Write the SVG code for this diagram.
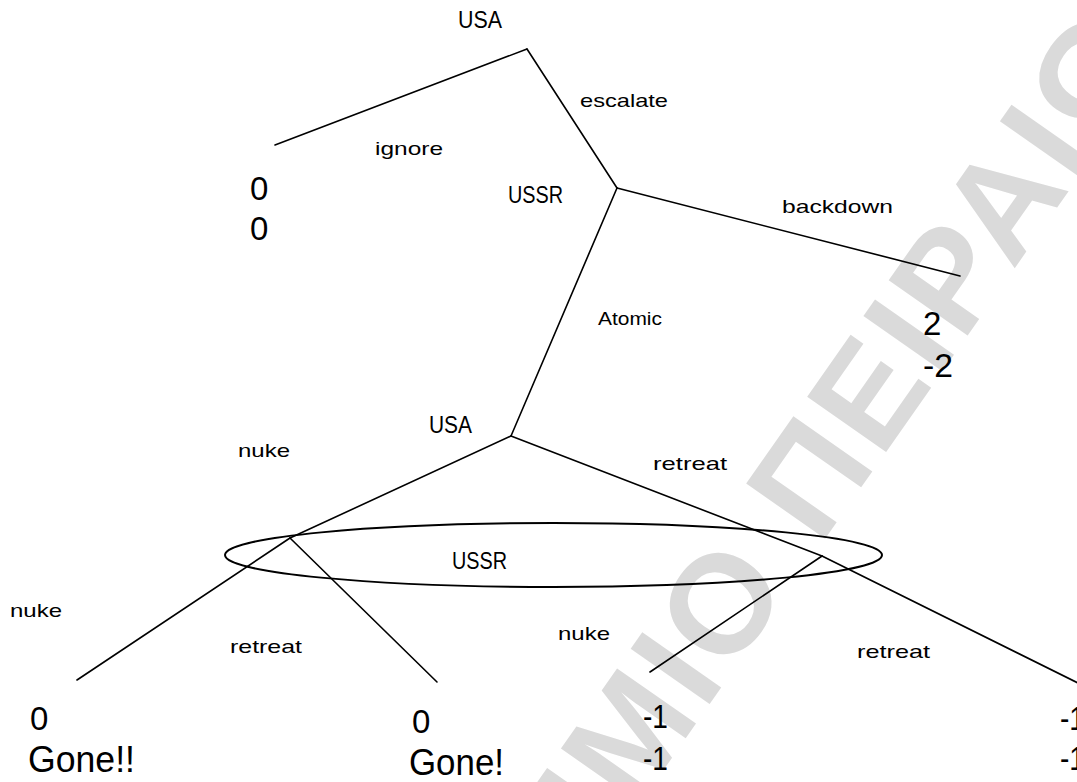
<svg xmlns="http://www.w3.org/2000/svg" width="1077" height="782" viewBox="0 0 1077 782">
<style>
  .bg { fill: #ffffff; }
  .wm { font-family: "Liberation Sans", "DejaVu Sans", sans-serif; font-weight: bold; font-size: 140px; letter-spacing: 5px; fill: #dadada; }
  .edge { stroke: #000; stroke-width: 1.6; fill: none; stroke-linecap: round; }
  .ell { stroke: #000; stroke-width: 2; fill: none; }
  .lbl { font-family: "Liberation Sans", "DejaVu Sans", sans-serif; font-size: 19px; fill: #000; }
  .node { font-family: "Liberation Sans", "DejaVu Sans", sans-serif; font-size: 24px; fill: #000; }
  .pay { font-family: "Liberation Sans", "DejaVu Sans", sans-serif; font-size: 33px; fill: #000; }
  .gone { font-family: "Liberation Sans", "DejaVu Sans", sans-serif; font-size: 37px; fill: #000; }
</style>
<rect class="bg" x="0" y="0" width="1077" height="782"/>
<text class="wm" transform="translate(720,602) rotate(-55)" x="-1073" y="50">ΠΑΝΕΠΙΣΤΗΜΙΟ ΠΕΙΡΑΙΩΣ</text>

<g id="connectors">
  <line class="edge" x1="527" y1="49" x2="275" y2="145"/>
  <line class="edge" x1="527" y1="49" x2="617" y2="188"/>
  <line class="edge" x1="617" y1="188" x2="960" y2="276"/>
  <line class="edge" x1="617" y1="188" x2="511" y2="436"/>
  <line class="edge" x1="511" y1="436" x2="290" y2="538"/>
  <line class="edge" x1="511" y1="436" x2="822" y2="556"/>
  <line class="edge" x1="290" y1="538" x2="77" y2="680"/>
  <line class="edge" x1="290" y1="538" x2="437" y2="682"/>
  <line class="edge" x1="822" y1="556" x2="650" y2="672"/>
  <line class="edge" x1="822" y1="556" x2="1080" y2="684"/>
  <text class="lbl" x="580" y="107" textLength="88" lengthAdjust="spacingAndGlyphs">escalate</text>
  <text class="lbl" x="375" y="155" textLength="68" lengthAdjust="spacingAndGlyphs">ignore</text>
  <text class="lbl" x="782" y="213" textLength="111" lengthAdjust="spacingAndGlyphs">backdown</text>
  <text class="lbl" x="598" y="325" textLength="64" lengthAdjust="spacingAndGlyphs">Atomic</text>
  <text class="lbl" x="238" y="457" textLength="52" lengthAdjust="spacingAndGlyphs">nuke</text>
  <text class="lbl" x="653" y="470" textLength="74" lengthAdjust="spacingAndGlyphs">retreat</text>
  <text class="lbl" x="10" y="617" textLength="52" lengthAdjust="spacingAndGlyphs">nuke</text>
  <text class="lbl" x="230" y="653" textLength="72" lengthAdjust="spacingAndGlyphs">retreat</text>
  <text class="lbl" x="558" y="640" textLength="52" lengthAdjust="spacingAndGlyphs">nuke</text>
  <text class="lbl" x="857" y="658" textLength="73" lengthAdjust="spacingAndGlyphs">retreat</text>
</g>

<g id="n-usa-root">
  <text class="node" x="458" y="28" textLength="44" lengthAdjust="spacingAndGlyphs">USA</text>
</g>
<g id="n-ussr-1">
  <text class="node" x="508" y="203" textLength="55" lengthAdjust="spacingAndGlyphs">USSR</text>
</g>
<g id="n-usa-2">
  <text class="node" x="429" y="433" textLength="43" lengthAdjust="spacingAndGlyphs">USA</text>
</g>
<g id="n-ussr-info">
  <ellipse class="ell" cx="553.5" cy="555" rx="328.5" ry="32"/>
  <text class="node" x="452" y="569" textLength="55" lengthAdjust="spacingAndGlyphs">USSR</text>
</g>

<g id="leaf-ignore">
  <text class="pay" x="250" y="200">0</text>
  <text class="pay" x="250" y="240">0</text>
</g>
<g id="leaf-backdown">
  <text class="pay" x="923" y="335">2</text>
  <text class="pay" x="923" y="377" textLength="30" lengthAdjust="spacingAndGlyphs">-2</text>
</g>
<g id="leaf-nuke-nuke">
  <text class="pay" x="30" y="730">0</text>
  <text class="gone" x="28" y="772" textLength="107" lengthAdjust="spacingAndGlyphs">Gone!!</text>
</g>
<g id="leaf-nuke-retreat">
  <text class="pay" x="412" y="733">0</text>
  <text class="gone" x="409" y="775" textLength="95" lengthAdjust="spacingAndGlyphs">Gone!</text>
</g>
<g id="leaf-retreat-nuke">
  <text class="pay" x="643" y="728" textLength="25" lengthAdjust="spacingAndGlyphs">-1</text>
  <text class="pay" x="643" y="770" textLength="25" lengthAdjust="spacingAndGlyphs">-1</text>
</g>
<g id="leaf-retreat-retreat">
  <text class="pay" x="1060" y="730" textLength="25" lengthAdjust="spacingAndGlyphs">-1</text>
  <text class="pay" x="1060" y="770" textLength="25" lengthAdjust="spacingAndGlyphs">-1</text>
</g>
</svg>
